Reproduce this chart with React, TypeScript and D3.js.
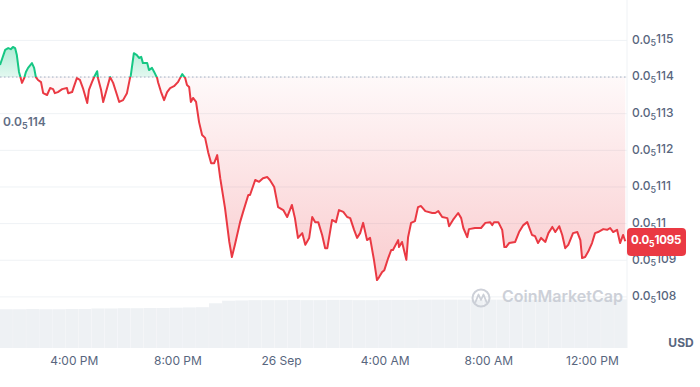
import React from "react";
import * as d3 from "d3";

// ---- data (prices in units of 1e-8 USD, time in minutes since 25 Sep 13:08) ----
const minutes = [0,12,19,25,30,35,39,44,51,56,60,65,74,79,83,88,95,100,109,116,123,127,134,144,155,158,167,171,178,185,192,202,206,213,218,225,227,234,239,248,255,262,271,276,285,294,301,303,310,317,322,327,331,341,345,352,357,364,366,373,380,387,394,403,412,417,422,429,433,438,442,447,454,461,468,475,482,489,496,503,510,521,531,537,544,556,563,575,579,591,600,609,619,625,635,644,656,665,676,683,690,700,707,716,723,730,737,746,753,758,769,778,785,795,804,811,820,827,834,841,850,857,866,873,878,885,890,899,906,910,922,924,931,941,945,952,961,968,975,985,1001,1008,1015,1024,1036,1040,1049,1061,1068,1073,1082,1086,1100,1114,1124,1135,1140,1144,1154,1163,1168,1172,1179,1193,1202,1212,1221,1232,1239,1246,1253,1263,1270,1279,1286,1295,1302,1309,1316,1327,1337,1344,1348,1355,1362,1371,1378,1385,1397,1406,1413,1420,1429,1436,1443,1448];
const prices = [114.33,114.74,114.79,114.76,114.82,114.79,114.60,114.14,113.84,113.97,114.14,114.25,114.38,114.25,114.00,113.92,113.86,113.56,113.51,113.70,113.67,113.56,113.59,113.67,113.70,113.56,113.59,113.73,113.97,113.92,113.70,113.29,113.65,113.86,114.00,114.16,113.97,113.65,113.32,113.70,114.00,113.84,113.51,113.32,113.37,113.56,113.97,114.05,114.65,114.60,114.52,114.55,114.38,114.38,114.19,114.25,114.14,113.97,113.86,113.59,113.37,113.59,113.70,113.75,113.86,113.97,114.08,113.97,113.78,113.73,113.32,113.43,113.32,112.77,112.42,112.34,111.95,111.65,111.65,111.87,111.24,110.43,109.50,109.09,109.42,110.04,110.32,110.78,110.78,111.19,111.14,111.24,111.27,111.19,111.00,110.45,110.37,110.18,110.51,110.15,109.61,109.74,109.42,109.61,110.18,110.04,110.04,109.69,109.33,109.33,110.10,110.04,110.37,110.32,110.18,110.15,109.83,109.61,109.74,110.02,109.55,109.61,109.01,108.46,108.54,108.68,108.73,109.06,109.28,109.28,109.55,109.36,109.50,109.01,109.63,110.02,110.07,110.45,110.48,110.34,110.29,110.29,110.34,110.18,110.15,109.93,110.10,110.29,110.15,109.88,109.63,109.85,109.88,109.88,110.02,110.04,109.96,110.04,110.04,109.83,109.36,109.36,109.47,109.50,109.77,109.96,110.04,109.69,109.66,109.47,109.61,109.50,109.74,109.91,109.77,109.93,109.69,109.33,109.42,109.74,109.77,109.55,109.06,109.09,109.23,109.47,109.74,109.77,109.85,109.83,109.88,109.77,109.83,109.47,109.69,109.52];
// rolling volume, one bar per 30 minutes (millions USD)
const volumes = [7.45,7.45,7.5,7.45,7.45,7.5,7.5,7.6,7.6,7.65,7.65,7.7,7.7,7.75,7.8,7.85,8.6,9.1,9.15,9.2,9.2,9.2,9.25,9.2,9.2,9.25,9.25,9.2,9.2,9.25,9.25,9.25,9.3,9.3,9.3,9.3,9.25,9.3,9.3,9.3,9.3,9.3,9.35,9.35,9.35,9.35,9.35,9.35];
const yTicks = [108, 109, 110, 111, 112, 113, 114, 115];
const openPrice = 114;
const currentPrice = 109.5;
const START = new Date(2024, 8, 25, 13, 8);
const SPAN_MIN = 1452;

const W = 700, H = 387;
const PLOT_R = 627;
const GREEN = "#16c784", RED = "#ea3943";
const TEXT = "#58667e";
const FONT = "Inter, 'Noto Sans', sans-serif";

function digits(v: number) {
  return String(+(v).toFixed(2)).replace(".", "").replace(/0+$/, "");
}

function SubLabel({ x, y, v, size = 12, fill = TEXT, weight = 500, ls = 0 }: any) {
  return (
    <text x={x} y={y} fontSize={size} fill={fill} fontWeight={weight} fontFamily={FONT} dominantBaseline="middle" letterSpacing={ls}>
      0.0
      <tspan fontSize={size * 0.75} dy={4}>5</tspan>
      <tspan dy={-4}>{digits(v)}</tspan>
    </text>
  );
}

export default function App() {
  const t = (m: number) => new Date(START.getTime() + m * 60000);
  const x = d3.scaleTime().domain([START, t(SPAN_MIN)]).range([0, PLOT_R]);
  const y = d3.scaleLinear().domain([108, 115]).range([296.9, 40.4]);
  const yBase = y(openPrice);

  const data = minutes.map((m, i) => ({ d: t(m), v: prices[i] }));
  const line = d3.line<any>().x((p) => x(p.d)).y((p) => y(p.v)).curve(d3.curveLinear);
  const area = d3.area<any>().x((p) => x(p.d)).y0(yBase).y1((p) => y(p.v));

  const volY = d3.scaleLinear().domain([0, 10]).range([348, 296]);
  const volX = d3.scaleBand<number>().domain(volumes.map((_, i) => i)).range([0, PLOT_R]).paddingInner(0.015);

  const xTicks = x.ticks(d3.timeHour.every(4) as any);
  const fmtX = (d: Date) => (d.getHours() === 0 ? d3.timeFormat("%-d %b")(d) : d3.timeFormat("%-I:%M %p")(d));

  return (
    <svg width={W} height={H} style={{ position: "absolute", left: 0, top: 0 }} fontFamily={FONT}>
      <defs>
        <clipPath id="above"><rect x={0} y={0} width={PLOT_R} height={yBase} /></clipPath>
        <clipPath id="below"><rect x={0} y={yBase} width={PLOT_R} height={H} /></clipPath>
        <linearGradient id="redGrad" x1="0" y1={yBase} x2="0" y2={y(108.4)} gradientUnits="userSpaceOnUse">
          <stop offset="0" stopColor={RED} stopOpacity={0.03} />
          <stop offset="1" stopColor={RED} stopOpacity={0.26} />
        </linearGradient>
        <linearGradient id="greenGrad" x1="0" y1={y(114.85)} x2="0" y2={yBase} gradientUnits="userSpaceOnUse">
          <stop offset="0" stopColor={GREEN} stopOpacity={0.35} />
          <stop offset="1" stopColor={GREEN} stopOpacity={0.12} />
        </linearGradient>
      </defs>
      <rect width={W} height={H} fill="#fff" />

      {/* volume */}
      {volumes.map((v, i) => (
        <rect key={i} x={volX(i)} y={volY(v)} width={volX.bandwidth()} height={volY(0) - volY(v)} fill="#eef1f4" />
      ))}

      {/* grid */}
      {yTicks.map((v) => (
        <line key={v} x1={0} x2={PLOT_R} y1={y(v)} y2={y(v)} stroke="#eff2f5" strokeWidth={1} />
      ))}
      <line x1={PLOT_R} x2={PLOT_R} y1={0} y2={348} stroke="#eff2f5" />

      {/* areas */}
      <path d={area(data) || ""} fill="url(#greenGrad)" clipPath="url(#above)" />
      <path d={area(data) || ""} fill="url(#redGrad)" clipPath="url(#below)" />

      {/* baseline */}
      <line x1={0} x2={PLOT_R} y1={yBase} y2={yBase} stroke="#a6b0c3" strokeWidth={1} strokeDasharray="1.5 2.5" />

      {/* lines */}
      <path d={line(data) || ""} fill="none" stroke={GREEN} strokeWidth={2} strokeLinejoin="round" clipPath="url(#above)" />
      <path d={line(data) || ""} fill="none" stroke={RED} strokeWidth={2} strokeLinejoin="round" clipPath="url(#below)" />

      {/* open price label */}
      <SubLabel x={3} y={yBase + 46} v={openPrice} size={12} fill="#616e85" weight={600} />

      {/* y axis labels */}
      {yTicks.map((v) => (
        <SubLabel key={v} x={632} y={y(v)} v={v} />
      ))}

      {/* current price */}
      <rect x={PLOT_R} y={y(currentPrice) - 14} width={59} height={28} rx={4} fill={RED} />
      <SubLabel x={631} y={y(currentPrice) - 1} v={currentPrice} fill="#fff" weight={700} size={11.5} ls={-0.2} />

      {/* x axis */}
      {xTicks.map((d) => (
        <text key={+d} x={x(d)} y={362} textAnchor="middle" dominantBaseline="middle" fontSize={12} fill={TEXT}>
          {fmtX(d)}
        </text>
      ))}
      <text x={681} y={344} textAnchor="middle" dominantBaseline="middle" fontSize={12} fontWeight={700} fill={TEXT}>USD</text>

      {/* watermark */}
      <g opacity={0.9}>
        <circle cx={481} cy={298} r={8.5} fill="none" stroke="#c8ccd4" strokeWidth={2} />
        <path d="M475.5,302 L478.5,294.5 L481,300 L483.5,294.5 L486.5,302" fill="none" stroke="#c8ccd4" strokeWidth={1.8} strokeLinejoin="round" strokeLinecap="round" />
        <text x={502} y={298} dominantBaseline="middle" fontSize={16} fontWeight={600} fill="#c8ccd4">CoinMarketCap</text>
      </g>
    </svg>
  );
}
